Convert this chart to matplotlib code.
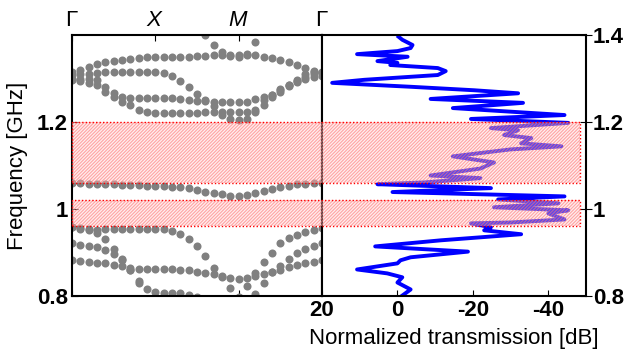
import numpy as np
import matplotlib
matplotlib.use("Agg")
import matplotlib.pyplot as plt
from matplotlib.patches import Rectangle
from matplotlib.transforms import blended_transform_factory

plt.rcParams['font.family'] = ['Liberation Sans', 'DejaVu Sans']
plt.rcParams['mathtext.fontset'] = 'custom'
plt.rcParams['mathtext.rm'] = 'Liberation Sans'
plt.rcParams['mathtext.it'] = 'Liberation Sans:italic'

nan = np.nan
# ---- band structure (k path Gamma-X-M-Gamma, 0..3 in steps of 0.1) ----
k_path = np.round(np.arange(0, 3.01, 0.1), 2)
band_u1 = [1.315, 1.320, 1.327, 1.333, 1.338, 1.341, 1.343, 1.345, 1.347, 1.349, 1.349, 1.350, 1.350, 1.350, 1.350, 1.351,
           1.352, 1.353, 1.354, 1.354, 1.355, 1.354, 1.353, 1.350, 1.347, 1.343, 1.338, 1.331, 1.324, 1.317, 1.315]
band_u2 = [1.308, 1.310, 1.311, 1.313, 1.315, 1.315, 1.315, 1.315, 1.315, 1.315, 1.315, 1.313, 1.306, 1.295, 1.280, 1.265,
           1.250, 1.236, 1.215, 1.208, 1.205, 1.208, 1.222, 1.250, 1.262, 1.273, 1.285, 1.295, 1.300, 1.303, 1.305]
band_u3 = [1.300, 1.299, 1.298, 1.297, 1.280, 1.267, 1.258, 1.255, 1.255, 1.255, 1.255, 1.255, 1.255, 1.254, 1.251, 1.249,
           1.248, 1.247, 1.246, 1.246, 1.246, 1.247, 1.252, 1.257, 1.262, 1.268, 1.282, 1.296, 1.310, 1.315, 1.315]
band_u4 = [1.297, 1.295, 1.290, 1.285, 1.268, 1.257, 1.246, 1.239, 1.228, 1.223, 1.221, 1.221, 1.221, 1.221, 1.221, 1.221,
           1.222, 1.223, 1.223, 1.223, 1.222, 1.224, 1.227, 1.240, 1.257, 1.275, 1.285, 1.292, 1.303, 1.310, 1.313]
band_t1 = [nan, nan, nan, nan, nan, nan, nan, nan, nan, nan, nan, nan, nan, nan, nan, nan,
           1.400, 1.378, 1.361, 1.352, 1.349, 1.356, 1.385, 1.410, nan, nan, nan, nan, nan, nan, nan]
band_l1 = [1.059, 1.059, 1.058, 1.058, 1.057, 1.057, 1.056, 1.055, 1.055, 1.054, 1.053, 1.052, 1.051, 1.050, 1.048, 1.043,
           1.039, 1.036, 1.034, 1.031, 1.029, 1.033, 1.036, 1.041, 1.047, 1.050, 1.054, 1.057, 1.058, 1.059, 1.059]
band_l2 = [0.958, 0.955, 0.953, 0.951, 0.953, 0.953, 0.953, 0.953, 0.953, 0.953, 0.953, 0.953, 0.950, 0.942, 0.932, 0.916,
           0.892, 0.865, 0.843, 0.818, 0.797, 0.822, 0.852, 0.878, 0.900, 0.921, 0.933, 0.941, 0.947, 0.951, 0.956]
band_l3 = [0.921, 0.918, 0.914, 0.912, 0.905, 0.897, 0.883, 0.860, 0.835, 0.815, 0.809, 0.808, 0.808, 0.806, 0.802, 0.797,
           0.790, 0.780, 0.770, 0.765, 0.765, 0.785, 0.805, 0.830, 0.855, 0.868, 0.885, 0.900, 0.909, 0.915, 0.921]
band_l4 = [0.882, 0.881, 0.879, 0.877, 0.875, 0.872, 0.868, 0.865, 0.863, 0.863, 0.863, 0.862, 0.861, 0.860, 0.859, 0.856,
           0.853, 0.850, 0.845, 0.841, 0.840, 0.842, 0.846, 0.850, 0.855, 0.859, 0.866, 0.872, 0.876, 0.879, 0.882]
band_l5 = [0.958, 0.956, 0.952, 0.944, 0.930, 0.907, 0.885, 0.860, 0.830, 0.790, nan, nan, nan, nan, nan, nan,
           nan, nan, nan, nan, nan, nan, nan, nan, nan, nan, nan, nan, nan, nan, nan]
bands = [band_u1, band_u2, band_u3, band_u4, band_t1, band_l1, band_l2, band_l3, band_l4, band_l5]

k_ticks = [0, 1, 2, 3]
k_labels = [r'$\Gamma$', r'$\mathit{X}$', r'$\mathit{M}$', r'$\Gamma$']

# ---- transmission ----
trans_f = [1.396, 1.389, 1.377, 1.370, 1.363, 1.356, 1.350, 1.340, 1.336, 1.331, 1.324, 1.317, 1.308, 1.297, 1.290,
           1.281, 1.273, 1.266, 1.253, 1.244, 1.232, 1.216, 1.207, 1.198, 1.186, 1.181, 1.170, 1.163, 1.151, 1.144,
           1.137, 1.121, 1.107, 1.093, 1.077, 1.071, 1.061, 1.057, 1.048, 1.039, 1.029, 1.022, 1.013, 1.004, 0.997,
           0.990, 0.976, 0.969, 0.967, 0.958, 0.951, 0.942, 0.928, 0.914, 0.902, 0.889, 0.882, 0.875, 0.861, 0.852,
           0.843, 0.831, 0.815, 0.801]
trans_db = [-0.3, -1.3, -4, -3.5, 0, 10.7, -2.7, 5.3, 0, 1.9, -10.7, -12.8, -10.7, 8.8, 17.3,
            -3.5, -20.3, -32, -8.8, -33.3, -14.7, -44.3, -19.5, -45.3, -24.8, -32, -28.3, -35.5, -32.8, -43.5,
            -30, -14.7, -25.6, -22, -8.8, -22, -7, 5.3, -24.8, 1.3, -44.3, -26.7, -42.7, -25.6, -45.3,
            -40, -44.3, -30, -19.5, -24.8, -23, -32.8, -11.5, 5.9, -18.7, -3.5, -0.8, 0, 10.7, 2.7,
            -1.3, 0, -3.5, -1.3]

gaps = [(0.96, 1.02), (1.06, 1.20)]
gap_right_db = -48.5

freq_ticks = [0.8, 1.0, 1.2]
freq_labels = ['0.8', '1', '1.2']
freq_ticks_r = [0.8, 1.0, 1.2, 1.4]
freq_labels_r = ['0.8', '1', '1.2', '1.4']
db_ticks = [20, 0, -20, -40]

FS = 16
fig = plt.figure(figsize=(6.25, 3.58), dpi=100)
W, H = 625, 358
axL = fig.add_axes([72 / W, 1 - 296 / H, 250 / W, 261 / H])
axR = fig.add_axes([322 / W, 1 - 296 / H, 264 / W, 261 / H])

for b in bands:
    axL.plot(k_path, np.array(b, dtype=float), 'o', color='#808080', ms=5.8, mec='none', zorder=2)
axL.set_xlim(0, 3)
axL.set_ylim(0.8, 1.4)
axL.set_xticks(k_ticks)
axL.set_xticklabels(k_labels, fontsize=FS)
axL.tick_params(axis='x', top=True, bottom=True, labeltop=True, labelbottom=False, direction='in', length=4, pad=3)
axL.set_yticks(freq_ticks)
axL.set_yticklabels(freq_labels, fontsize=FS, fontweight='bold')
axL.tick_params(axis='y', left=True, right=False, direction='in', length=4, pad=3)
axL.set_ylabel('Frequency [GHz]', fontsize=FS, labelpad=6)
for s in axL.spines.values():
    s.set_linewidth(1.5)

axR.plot(trans_db, trans_f, color='#0000ff', lw=2.8, solid_joinstyle='round', zorder=2)
axR.set_xlim(20, -50)
axR.set_ylim(0.8, 1.4)
axR.set_xticks(db_ticks)
axR.set_xticklabels([str(v) for v in db_ticks], fontsize=FS, fontweight='bold')
axR.tick_params(axis='x', direction='in', length=4, pad=3)
axR.yaxis.tick_right()
axR.set_yticks(freq_ticks_r)
axR.set_yticklabels(freq_labels_r, fontsize=FS, fontweight='bold')
axR.tick_params(axis='y', direction='inout', length=8, pad=1)
axR.set_xlabel('Normalized transmission [dB]', fontsize=FS, labelpad=5)
for s in axR.spines.values():
    s.set_linewidth(1.5)

# stop bands spanning both panels
plt.rcParams['hatch.linewidth'] = 0.8
fig.canvas.draw()
x0 = axL.get_position().x0
x1 = fig.transFigure.inverted().transform(axR.transData.transform((gap_right_db, 1.0)))[0]
blend = blended_transform_factory(fig.transFigure, axR.transData)
for f0, f1 in gaps:
    fill = Rectangle((x0, f0), x1 - x0, f1 - f0, transform=blend, facecolor=(1, 0.82, 0.82, 0.35),
                     edgecolor=(1, 0.45, 0.45, 0.6), hatch='//////////', linewidth=0, clip_on=False, zorder=5)
    axR.add_artist(fill)
    border = Rectangle((x0, f0), x1 - x0, f1 - f0, transform=blend, fill=False,
                       edgecolor='red', linestyle=(0, (1, 1.5)), linewidth=1.0, clip_on=False, zorder=6)
    axR.add_artist(border)

fig.savefig('out.png', dpi=100)
